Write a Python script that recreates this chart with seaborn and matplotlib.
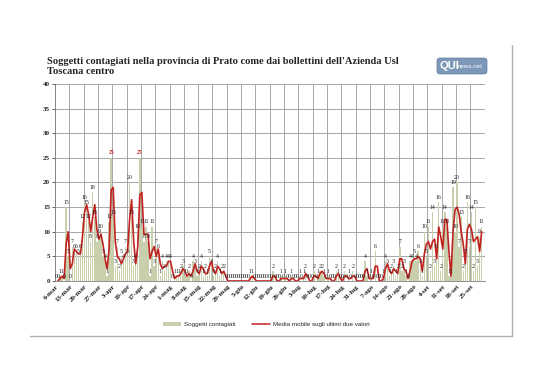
import numpy as np
import pandas as pd
import matplotlib
matplotlib.use("Agg")
import matplotlib.pyplot as plt
import seaborn as sns
from matplotlib.patches import FancyBboxPatch, Patch
from matplotlib.lines import Line2D

# daily new cases, one row per week starting 6-mar-2020
start_date = "2020-03-06"
soggetti = [
    0, 0, 1, 1, 0, 15, 5,
    0, 7, 6, 6, 5, 6, 12,
    16, 15, 12, 8, 18, 13, 8,
    9, 10, 5, 4, 1, 12, 25,
    13, 3, 7, 2, 5, 4, 7,
    5, 20, 13, 3, 4, 10, 25,
    11, 8, 11, 8, 1, 11, 3,
    7, 6, 1, 4, 2, 4, 4,
    4, 0, 1, 1, 1, 2, 3,
    1, 1, 2, 0, 4, 3, 1,
    2, 4, 1, 2, 1, 5, 3,
    1, 2, 4, 1, 2, 2, 0,
    0, 0, 0, 0, 0, 0, 0,
    0, 0, 0, 0, 1, 1, 0,
    0, 0, 0, 0, 0, 0, 0,
    0, 2, 0, 0, 0, 1, 0,
    1, 0, 0, 1, 0, 0, 0,
    1, 0, 1, 2, 0, 0, 0,
    2, 0, 1, 2, 2, 1, 0,
    1, 0, 0, 0, 2, 1, 0,
    0, 2, 0, 1, 0, 2, 0,
    0, 0, 0, 0, 4, 1, 0,
    1, 0, 6, 0, 0, 0, 1,
    4, 3, 1, 2, 3, 1, 2,
    7, 2, 3, 1, 0, 4, 4,
    5, 4, 6, 3, 1, 10, 5,
    11, 2, 14, 3, 6, 16, 2,
    11, 14, 11, 1, 1, 19, 10,
    20, 7, 13, 2, 5, 16, 7,
    14, 2, 15, 3, 9, 11,
]
mesi = ["gen", "feb", "mar", "apr", "mag", "giu", "lug", "ago", "set", "ott", "nov", "dic"]
title = "Soggetti contagiati nella provincia di Prato come dai bollettini dell'Azienda Usl\nToscana centro"
label_bars = "Soggetti contagiati"
label_line = "Media mobile sugli ultimi due valori"

dates = pd.date_range(start_date, periods=len(soggetti), freq="D")
df = pd.DataFrame({"giorno": np.arange(len(soggetti)), "casi": soggetti})
df["media"] = df["casi"].rolling(2).mean()
tick_labels = [f"{d.day}-{mesi[d.month - 1]}" for d in dates]

bar_color = "#c8cfad"
line_color = "#c0221f"

sns.set_style("white")
fig = plt.figure(figsize=(5.38, 3.80), dpi=100)
ax = fig.add_axes([0.102, 0.2605, 0.799, 0.5185])

sns.barplot(data=df, x="giorno", y="casi", color=bar_color, width=0.7,
            saturation=1, edgecolor="none", linewidth=0, ax=ax)
sns.lineplot(data=df, x="giorno", y="media", color=line_color, linewidth=1.2, ax=ax)

# data labels on every bar
top = df["casi"].max()
for i, v in zip(df["giorno"], df["casi"]):
    ax.text(i, v + 0.5, str(v), ha="center", va="bottom", fontsize=4.2,
            family="Liberation Serif", color=line_color if v == top else "#222222",
            fontweight="bold" if v == top else "normal")

ax.set_ylim(0, 40)
ax.set_xlim(-0.5, 209.5)
ax.set_yticks(range(0, 41, 5))
ax.set_yticklabels([str(t) for t in range(0, 41, 5)], fontsize=5,
                   fontweight="bold", family="Liberation Serif")
ax.set_xticks(df["giorno"][::7])
ax.set_xticklabels(tick_labels[::7], rotation=45, ha="right",
                   rotation_mode="anchor", fontsize=5, fontweight="bold",
                   family="Liberation Serif")
ax.set_xticks(np.arange(-0.5, 210, 7), minor=True)
ax.grid(True, axis="y", which="major", color="#999999", linewidth=0.6)
ax.grid(True, axis="x", which="minor", color="#999999", linewidth=0.6)
ax.grid(False, axis="x", which="major")
ax.set_axisbelow(True)
ax.tick_params(axis="y", length=2, width=0.5, pad=1.5, colors="#222222", left=True)
ax.tick_params(axis="x", which="both", length=0, pad=2, colors="#222222")
ax.set_xlabel("")
ax.set_ylabel("")
for s in ["top", "right"]:
    ax.spines[s].set_visible(False)
ax.spines["left"].set_color("#808080")
ax.spines["left"].set_linewidth(0.6)
ax.spines["bottom"].set_color("#808080")
ax.spines["bottom"].set_linewidth(0.6)

# legend below the chart
handles = [Patch(facecolor=bar_color, edgecolor="none"),
           Line2D([0], [0], color=line_color, linewidth=1.1)]
fig.legend(handles, [label_bars, label_line], loc="center", ncol=2,
           bbox_to_anchor=(0.495, 0.145), frameon=False,
           prop={"family": "Liberation Sans", "size": 4.5},
           handlelength=3, handleheight=0.6, columnspacing=2.5, handletextpad=0.5)

# title
fig.text(47 / 538, 1 - 57 / 380, title, fontsize=7.6, fontweight="bold",
         family="Liberation Serif", va="top", ha="left", linespacing=1.1)

# logo
fig.patches.append(FancyBboxPatch((437 / 538, 1 - 74 / 380), 50 / 538, 16 / 380,
                                  boxstyle="round,pad=0,rounding_size=0.006",
                                  transform=fig.transFigure, facecolor="#7d97b8",
                                  edgecolor="#5f7ea3", linewidth=0.5))
fig.text(439 / 538, 1 - 66 / 380, "QUI", fontsize=8, fontweight="bold",
         color="white", family="Liberation Sans", va="center", ha="left")
fig.text(458 / 538, 1 - 67 / 380, "news.net", fontsize=4.5, color="white",
         family="Liberation Sans", va="center", ha="left")

# chart frame (right and bottom edges)
fig.add_artist(Line2D([512 / 538, 512 / 538], [1 - 45 / 380, 1 - 336 / 380],
                      transform=fig.transFigure, color="#b0b0b0", linewidth=1))
fig.add_artist(Line2D([30 / 538, 512 / 538], [1 - 336 / 380, 1 - 336 / 380],
                      transform=fig.transFigure, color="#b0b0b0", linewidth=1))

fig.savefig("out.png", dpi=100)
